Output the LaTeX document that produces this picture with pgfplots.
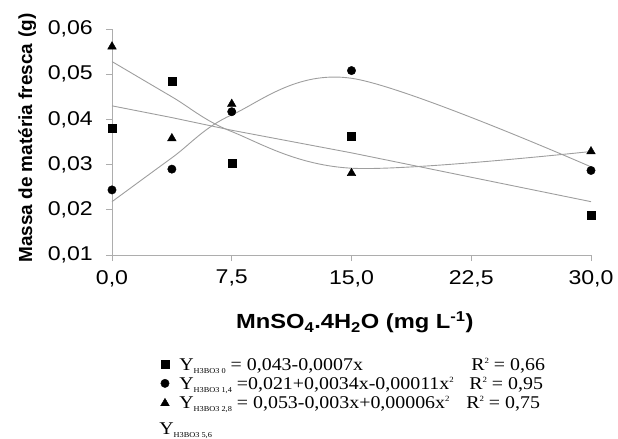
\documentclass[border=0pt]{standalone}
\usepackage{pgfplots}
\pgfplotsset{compat=1.18}
\usepackage{fontspec}
\setmainfont{Liberation Sans}
\newfontfamily\widesans{Liberation Sans}[FakeStretch=1.16]
\newfontfamily\wideserif{Liberation Serif}[FakeStretch=1.11]
\newcommand{\sub}[1]{\raisebox{-3bp}{\fontsize{7.5}{8}\selectfont #1}}
\newcommand{\sq}{\raisebox{6.5bp}{\fontsize{8}{8}\selectfont 2}}
\definecolor{fitgray}{gray}{0.62}
\definecolor{axgray}{gray}{0.68}
\pgfplotsset{
    marklegend/.style={legend image code/.code={\draw[##1] plot coordinates {(0bp,#1)};}},
}

\begin{document}
\begin{tikzpicture}
\begin{axis}[
    scale only axis, width=479bp, height=226bp,
    xmin=0, xmax=30, ymin=0.01, ymax=0.06,
    xtick={0,7.5,15,22.5,30},
    ytick={0.01,0.02,0.03,0.04,0.05,0.06},
    scaled y ticks=false,
    axis lines*=left,
    axis line style={axgray, line width=0.9bp},
    tick style={axgray, line width=0.9bp},
    tick align=outside, major tick length=6bp,
    clip=false,
    xticklabel shift=9bp,
    tick label style={font=\widesans\fontsize{20}{24}\selectfont, inner sep=0pt},
    yticklabel={\pgfmathprintnumber{\tick}\hspace*{13bp}},
    yticklabel style={anchor=east,
        /pgf/number format/.cd, fixed, fixed zerofill, precision=2, use comma, assume math mode=true},
    xticklabel style={anchor=north,
        /pgf/number format/.cd, fixed, fixed zerofill, precision=1, use comma, assume math mode=true},
    xlabel={MnSO\textsubscript{4}.4H\textsubscript{2}O (mg L\textsuperscript{-1})},
    xlabel style={at={(axis description cs:0.507,-0.327)}, anchor=base, inner sep=0pt,
        font=\widesans\bfseries\fontsize{20.5}{24}\selectfont},
    ylabel={Massa de matéria fresca\,\,(g)},
    ylabel style={at={(axis description cs:-0.167,0.518)}, anchor=base, inner sep=0pt,
        font=\bfseries\fontsize{19}{22}\selectfont},
    legend style={at={(axis description cs:0.1016,-0.458)}, anchor=north west,
        draw=none, fill=none, inner sep=0pt, outer sep=0pt,
        row sep=5.5bp, column sep=10bp,
        font=\wideserif\fontsize{18}{20}\selectfont,
        cells={anchor=base west}, nodes={inner sep=0pt}},
]
% fitted curves
\addplot[fitgray, line width=0.9bp, forget plot]
    coordinates {(0,0.0430)(3.75,0.0404)(7.5,0.0376)(15,0.0326)(30,0.0218)};
\addplot[fitgray, line width=0.9bp, smooth, tension=0.55, forget plot]
    coordinates {(0,0.0218)(3.75,0.0315)(7.5,0.0410)(15,0.0491)(30,0.0295)};
\addplot[fitgray, line width=0.9bp, smooth, tension=0.55, forget plot]
    coordinates {(0,0.0528)(3.75,0.0450)(7.5,0.0373)(15,0.0292)(30,0.0329)};

% H3BO3 0
\addplot[only marks, mark=square*, mark size=4bp, black, marklegend=6bp]
    coordinates {(0,0.0380)(3.75,0.0485)(7.5,0.0304)(15,0.0362)(30,0.0188)};
\addlegendentry{\makebox[292bp][l]{Y\sub{H3BO3 0} = 0,043-0,0007x}R\sq{} = 0,66}
% H3BO3 1,4
\addplot[only marks, mark=*, mark size=4.2bp, black, marklegend=6bp]
    coordinates {(0,0.0244)(3.75,0.0290)(7.5,0.0417)(15,0.0508)(30,0.0287)};
\addlegendentry{\makebox[290bp][l]{Y\sub{H3BO3 1,4} =0,021+0,0034x-0,00011x\sq}R\sq{} = 0,95}
% H3BO3 2,8
\addplot[only marks, mark=triangle*, mark size=5bp, black, marklegend=5bp]
    coordinates {(0,0.0561)(3.75,0.0358)(7.5,0.0434)(15,0.0281)(30,0.0329)};
\addlegendentry{\makebox[287bp][l]{Y\sub{H3BO3 2,8} = 0,053-0,003x+0,00006x\sq}R\sq{} = 0,75}
% H3BO3 5,6 (no data shown)
\addlegendimage{empty legend}
\addlegendentry{\hspace*{-20bp}\rule{0pt}{19bp}Y\sub{H3BO3 5,6}}
\end{axis}
\pgfresetboundingbox
\path[use as bounding box] (current axis.south west) ++(-112bp,-184bp) rectangle ++(618bp,439bp);
\end{tikzpicture}
\end{document}
